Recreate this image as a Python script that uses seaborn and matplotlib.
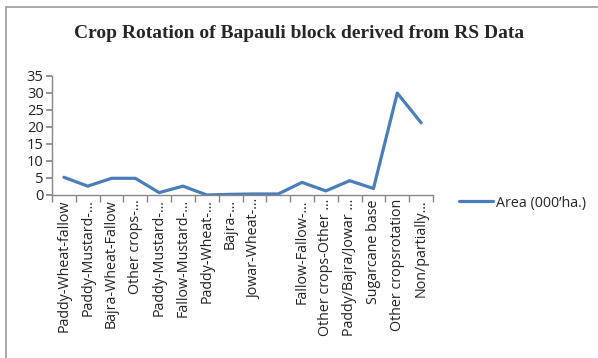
import numpy as np
import pandas as pd
import matplotlib
matplotlib.use("Agg")
import matplotlib.pyplot as plt
import seaborn as sns
from matplotlib.lines import Line2D

categories = [
    "Paddy-Wheat-fallow", "Paddy-Mustard-...", "Bajra-Wheat-Fallow", "Other crops-...",
    "Paddy-Mustard-...", "Fallow-Mustard-...", "Paddy-Wheat-...", "Bajra-...",
    "Jowar-Wheat-...", "", "Fallow-Fallow-...", "Other crops-Other ...",
    "Paddy/Bajra/Jowar ...", "Sugarcane base", "Other cropsrotation", "Non/partially...",
]
area = [5.2, 2.6, 4.9, 4.9, 0.7, 2.6, 0.0, 0.2, 0.3, 0.3, 3.7, 1.2, 4.2, 1.9, 29.9, 21.2]
yticks = [0, 5, 10, 15, 20, 25, 30, 35]
series_name = "Area (000\u2019ha.)"

df = pd.DataFrame({"idx": np.arange(len(categories)), "area": area})

sns.set_theme(style="white")
plt.rcParams["font.family"] = ["Open Sans", "DejaVu Sans"]

fig = plt.figure(figsize=(5.98, 3.58), dpi=100)
ax = fig.add_axes([52/598, 1-195/358, (433-52)/598, (195-75.7)/358])

color = "#4A7EBB"
sns.lineplot(data=df, x="idx", y="area", ax=ax, color=color, linewidth=2.3, sort=False)

ax.set_xlim(-0.5, len(categories) - 0.5)
ax.set_ylim(0, 35)
ax.set_yticks(yticks)
ax.set_yticklabels([str(v) for v in yticks], fontsize=10.5, color="#222222")
ax.set_xticks(np.arange(len(categories)))
ax.set_xticklabels(categories, rotation=90, fontsize=10.3, color="#222222")
ax.set_xticks(np.arange(-0.5, len(categories)), minor=True)
ax.tick_params(axis="x", which="major", length=0, pad=3)
ax.tick_params(axis="x", which="minor", length=5, color="#888888", direction="out", bottom=True)
ax.tick_params(axis="y", length=4, color="#888888", direction="out", left=True, pad=2)
ax.set_xlabel("")
ax.set_ylabel("")
for s in ["top", "right"]:
    ax.spines[s].set_visible(False)
for s in ["left", "bottom"]:
    ax.spines[s].set_color("#888888")
    ax.spines[s].set_linewidth(1.0)

handle = Line2D([], [], color=color, linewidth=2.3)
fig.legend([handle], [series_name], loc="center left", bbox_to_anchor=(446/598, 1-203/358),
           frameon=False, fontsize=10.3, handlelength=2.4, handletextpad=0.2)

fig.text(0.5, 1-33/358, "Crop Rotation of Bapauli block derived from RS Data",
         ha="center", va="center", fontsize=14, fontweight="bold", family="Liberation Serif")

# chart-area border (only top and left edges are visible in the reference)
fig.add_artist(Line2D([6/598, 6/598], [0, 1-6.5/358], transform=fig.transFigure,
                      color="#999999", linewidth=1.2))
fig.add_artist(Line2D([6/598, 1], [1-6.5/358, 1-6.5/358], transform=fig.transFigure,
                      color="#999999", linewidth=1.2))

fig.savefig("out.png", dpi=100)
